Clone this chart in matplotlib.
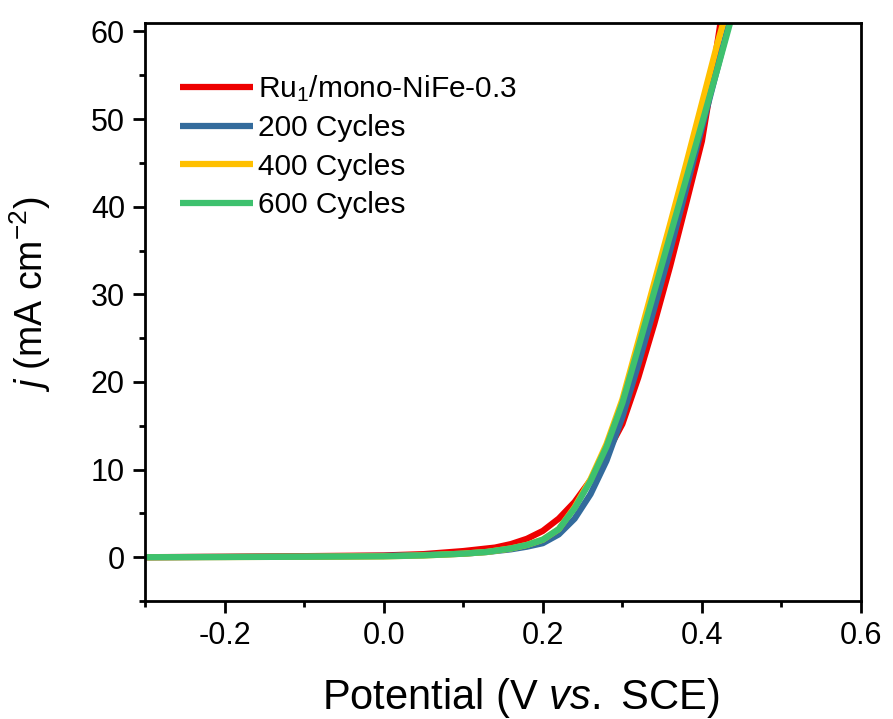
import matplotlib
matplotlib.use("Agg")
import matplotlib.pyplot as plt
from matplotlib.ticker import MultipleLocator

# LSV curves: potential (V vs. SCE) and current density (mA cm^-2)
pot_ru = [-0.30, -0.20, -0.10, 0.00, 0.05, 0.10, 0.14, 0.16, 0.18, 0.20, 0.22, 0.24, 0.26,
          0.28, 0.30, 0.32, 0.34, 0.36, 0.38, 0.40, 0.41, 0.42, 0.425]
j_ru = [0.0, 0.05, 0.12, 0.2, 0.35, 0.7, 1.1, 1.5, 2.1, 3.0, 4.4, 6.3, 8.8,
        11.8, 15.2, 20.5, 26.6, 33.2, 40.3, 47.5, 53.0, 59.0, 62.0]

pot_200 = [-0.30, -0.20, -0.10, 0.00, 0.05, 0.10, 0.13, 0.16, 0.18, 0.20, 0.22, 0.24, 0.26,
           0.28, 0.30, 0.32, 0.34, 0.36, 0.38, 0.40, 0.42, 0.437]
j_200 = [0.0, 0.03, 0.08, 0.15, 0.25, 0.4, 0.6, 0.9, 1.2, 1.6, 2.6, 4.4, 7.2,
         11.0, 16.0, 22.0, 28.4, 35.0, 42.0, 49.0, 56.0, 62.0]

pot_400 = [-0.30, -0.20, -0.10, 0.00, 0.05, 0.10, 0.13, 0.16, 0.18, 0.20, 0.22, 0.24, 0.26,
           0.28, 0.30, 0.32, 0.34, 0.36, 0.38, 0.40, 0.42, 0.43]
j_400 = [0.0, 0.02, 0.05, 0.1, 0.2, 0.4, 0.6, 1.0, 1.4, 2.0, 3.2, 5.7, 8.9,
         12.9, 18.0, 24.6, 31.3, 38.0, 44.8, 51.8, 58.8, 62.0]

pot_600 = [-0.30, -0.20, -0.10, 0.00, 0.05, 0.10, 0.13, 0.16, 0.18, 0.20, 0.22, 0.24, 0.26,
           0.28, 0.30, 0.32, 0.34, 0.36, 0.38, 0.40, 0.42, 0.437]
j_600 = [0.0, 0.02, 0.05, 0.1, 0.2, 0.4, 0.6, 1.0, 1.4, 2.0, 3.2, 5.6, 8.7,
         12.6, 17.6, 23.9, 30.3, 36.7, 43.1, 49.5, 55.9, 61.5]

labels = ["Ru$_1$/mono-NiFe-0.3", "200 Cycles", "400 Cycles", "600 Cycles"]
colors = ["#EE0000", "#336B9C", "#FFC000", "#3EC16E"]

plt.rcParams.update({
    "font.family": "Liberation Sans",
    "mathtext.fontset": "custom",
    "mathtext.rm": "Liberation Sans",
    "mathtext.it": "Liberation Sans:italic",
})

fig = plt.figure(figsize=(8.93, 7.19), dpi=100)
ax = fig.add_axes([0.1624, 0.1641, 0.8018, 0.8043])

series = [(pot_ru, j_ru), (pot_200, j_200), (pot_400, j_400), (pot_600, j_600)]
for (x, y), lab, c in zip(series, labels, colors):
    ax.plot(x, y, color=c, lw=4.5, label=lab, solid_capstyle="butt", solid_joinstyle="round")

ax.set_xlim(-0.3, 0.6)
ax.set_ylim(-5, 61)
ax.xaxis.set_major_locator(MultipleLocator(0.2))
ax.xaxis.set_minor_locator(MultipleLocator(0.1))
ax.yaxis.set_major_locator(MultipleLocator(10))
ax.yaxis.set_minor_locator(MultipleLocator(5))
ax.xaxis.set_major_formatter(lambda v, p: f"{v:.1f}")

ax.tick_params(which="major", direction="out", length=8.5, width=2, labelsize=22, pad=6)
ax.tick_params(which="minor", direction="out", length=4.5, width=2)
for s in ax.spines.values():
    s.set_linewidth(2)

ax.set_xlabel(r"Potential (V $\it{vs.}$ SCE)", fontsize=30, labelpad=18)
ax.set_ylabel(r"$\it{j}$ (mA cm$^{-2}$)", fontsize=27, labelpad=27)
# labels sit a little off the axis centre
ax.xaxis.label.set_x(0.525)
ax.yaxis.label.set_y(0.53)

ax.legend(loc="upper left", bbox_to_anchor=(0.049, 0.913), frameon=False, fontsize=21.5,
          handlelength=2.45, handletextpad=0.17, labelspacing=0.35, borderpad=0, borderaxespad=0)

fig.savefig("out.png", dpi=100)
